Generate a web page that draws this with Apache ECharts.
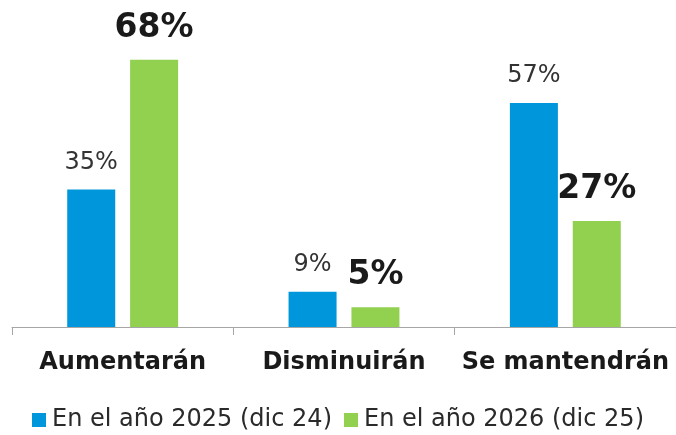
<!DOCTYPE html>
<html><head><meta charset="utf-8">
<script src="https://cdn.jsdelivr.net/npm/echarts@6/dist/echarts.min.js"></script>
<style>html,body{margin:0;padding:0;background:#fff}#c{width:676px;height:435px}</style>
</head><body><div id="c"></div>
<script>
const categories = ['Aumentarán', 'Disminuirán', 'Se mantendrán'];
const seriesNames = ['En el año 2025 (dic 24)', 'En el año 2026 (dic 25)'];
const values2025 = [35, 9, 57];
const values2026 = [68, 5, 27];

const FONT = '"DejaVu Sans", sans-serif';
const chart = echarts.init(document.getElementById('c'));
chart.setOption({
  animation: false,
  textStyle: { fontFamily: FONT },
  grid: { left: 12, right: 0, top: 52, bottom: 108, containLabel: false },
  legend: {
    bottom: -2, left: 'center', icon: 'rect', itemWidth: 14, itemHeight: 14, itemGap: 12,
    textStyle: { fontSize: 24, color: '#2a2a2a', fontFamily: FONT, padding: [0, 0, 0, 1] },
    data: seriesNames
  },
  xAxis: {
    type: 'category', data: categories,
    axisLine: { lineStyle: { color: '#a6a6a6', width: 1 } },
    axisTick: { show: true, length: 8, lineStyle: { color: '#a6a6a6' } },
    axisLabel: { interval: 0, fontSize: 24, fontWeight: 'bold', color: '#1a1a1a', margin: 24, fontFamily: FONT }
  },
  yAxis: { type: 'value', min: 0, max: 70, show: false, splitLine: { show: false } },
  series: [
    {
      name: seriesNames[0], type: 'bar', data: values2025, barWidth: 48, barGap: '31%',
      itemStyle: { color: '#0096DB' },
      label: { show: true, position: 'top', distance: 15, formatter: '{c}%', fontSize: 24, color: '#333', fontFamily: FONT }
    },
    {
      name: seriesNames[1], type: 'bar', data: values2026, barWidth: 48,
      itemStyle: { color: '#92D050' },
      label: { show: true, position: 'top', distance: 15, formatter: '{c}%', fontSize: 33, fontWeight: 'bold', color: '#1a1a1a', fontFamily: FONT }
    }
  ]
});
</script></body></html>
